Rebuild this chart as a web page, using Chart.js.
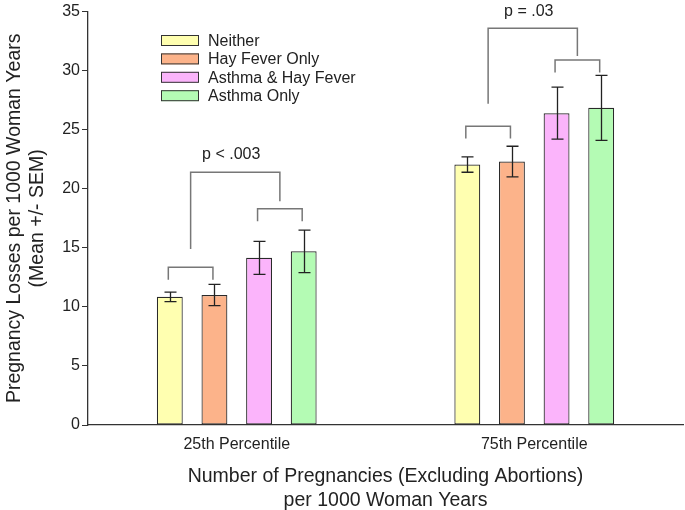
<!DOCTYPE html>
<html>
<head>
<meta charset="utf-8">
<script src="https://cdn.jsdelivr.net/npm/chart.js@4"></script>
<style>
  html, body { margin: 0; padding: 0; background: #fff; }
  #wrap { width: 685px; height: 510px; }
</style>
</head>
<body>
<div id="wrap"><canvas id="chart" width="685" height="510"></canvas></div>
<script>
// ---- data ----
const categories = ["25th Percentile", "75th Percentile"];
const seriesNames = ["Neither", "Hay Fever Only", "Asthma & Hay Fever", "Asthma Only"];
const neither = [10.85, 22.05];
const hayFever = [11.0, 22.3];
const asthmaHay = [14.15, 26.4];
const asthmaOnly = [14.7, 26.85];
const semNeither = [0.4, 0.65];
const semHayFever = [0.9, 1.3];
const semAsthmaHay = [1.4, 2.2];
const semAsthmaOnly = [1.8, 2.75];
const yTicks = [0, 5, 10, 15, 20, 25, 30, 35];

// significance brackets (y values in data units)
const pairLevelA = [13.35, 25.3];   // Neither vs Hay Fever
const pairLevelB = [18.3, 30.9];    // Asthma & HF vs Asthma only
const pairLeg = 1.05;
const bigLevel = [21.4, 33.6];
const bigLegLeft = [14.9, 27.2];
const bigLegRight = [18.95, 31.25];
const pLabels = ["p < .003", "p = .03"];
const pLabelY = [22.9, 35.0];

const COLORS = ["#ffffb0", "#fcb38a", "#fbb4fb", "#b4fbb4"];
const FONT = "'Liberation Sans', Arial, sans-serif";

const values = [neither, hayFever, asthmaHay, asthmaOnly];
const sems = [semNeither, semHayFever, semAsthmaHay, semAsthmaOnly];

// ---- error bars, brackets, legend drawn on top of bars ----
const overlay = {
    id: "overlay",
    afterDatasetsDraw(chart) {
        const c = chart.ctx;
        const ys = chart.scales.y;

        // error bars
        c.save();
        c.strokeStyle = "#222";
        c.lineWidth = 1.3;
        values.forEach((vals, di) => {
            chart.getDatasetMeta(di).data.forEach((bar, i) => {
                const x = Math.round(bar.x) + 0.5;
                const hi = ys.getPixelForValue(vals[i] + sems[di][i]);
                const lo = ys.getPixelForValue(vals[i] - sems[di][i]);
                c.beginPath();
                c.moveTo(x, hi); c.lineTo(x, lo);
                c.moveTo(x - 6, hi); c.lineTo(x + 6, hi);
                c.moveTo(x - 6, lo); c.lineTo(x + 6, lo);
                c.stroke();
            });
        });

        // brackets
        c.strokeStyle = "#777";
        c.lineWidth = 1.5;
        const cx = (di, i) => chart.getDatasetMeta(di).data[i].x - 1.5;
        categories.forEach((cat, i) => {
            const drawPair = (a, b, level) => {
                const x1 = cx(a, i), x2 = cx(b, i);
                const yTop = ys.getPixelForValue(level);
                const yBot = ys.getPixelForValue(level - pairLeg);
                c.beginPath();
                c.moveTo(x1, yBot); c.lineTo(x1, yTop);
                c.lineTo(x2, yTop); c.lineTo(x2, yBot);
                c.stroke();
                return (x1 + x2) / 2;
            };
            const mA = drawPair(0, 1, pairLevelA[i]);
            const mB = drawPair(2, 3, pairLevelB[i]);
            const top = ys.getPixelForValue(bigLevel[i]);
            c.beginPath();
            c.moveTo(mA, ys.getPixelForValue(bigLegLeft[i]));
            c.lineTo(mA, top);
            c.lineTo(mB, top);
            c.lineTo(mB, ys.getPixelForValue(bigLegRight[i]));
            c.stroke();

            c.fillStyle = "#222";
            c.font = "16px " + FONT;
            c.textAlign = "center";
            c.textBaseline = "middle";
            c.fillText(pLabels[i], (mA + mB) / 2 - 4, ys.getPixelForValue(pLabelY[i]));
        });

        // legend
        c.textAlign = "left";
        c.font = "16px " + FONT;
        chart.data.datasets.forEach((ds, di) => {
            const y = 40.5 + di * 18.4;
            c.fillStyle = ds.backgroundColor;
            c.fillRect(161, y - 5.5, 38, 11);
            c.strokeStyle = "#333";
            c.lineWidth = 1;
            c.strokeRect(161.5, y - 5, 37, 10);
            c.fillStyle = "#222";
            c.fillText(ds.label, 208, y + 1);
        });
        c.restore();
    }
};

new Chart(document.getElementById("chart"), {
    type: "bar",
    data: {
        labels: categories,
        datasets: seriesNames.map((name, i) => ({
            label: name,
            data: values[i],
            backgroundColor: COLORS[i],
            borderColor: "#2a2a2a",
            borderWidth: 1.2,
            borderSkipped: false,
            categoryPercentage: 0.6,
            barPercentage: 0.58
        }))
    },
    options: {
        responsive: false,
        animation: false,
        devicePixelRatio: 1,
        layout: { padding: { top: 8, right: 2, left: 0, bottom: 0 } },
        plugins: { legend: { display: false }, tooltip: { enabled: false } },
        scales: {
            x: {
                grid: { display: false, drawTicks: false },
                border: { display: true, color: "#333", width: 1.3 },
                ticks: { color: "#222", padding: 10, font: { family: FONT, size: 16 } },
                title: {
                    display: true,
                    text: ["Number of Pregnancies (Excluding Abortions)", "per 1000 Woman Years"],
                    color: "#222",
                    font: { family: FONT, size: 19.5 },
                    lineHeight: 1.25,
                    padding: { top: 0, bottom: -2 }
                },
                afterFit(scale) { scale.height = 85; }
            },
            y: {
                min: 0,
                max: 35,
                afterBuildTicks(scale) { scale.ticks = yTicks.map(v => ({ value: v })); },
                grid: { drawOnChartArea: false, drawTicks: true, tickLength: 6, color: "#333" },
                border: { display: true, color: "#333", width: 1.3 },
                ticks: { color: "#222", padding: 2, font: { family: FONT, size: 16 } },
                title: {
                    display: true,
                    text: ["Pregnancy Losses per 1000 Woman Years", "(Mean +/- SEM)"],
                    color: "#222",
                    font: { family: FONT, size: 19.5 },
                    lineHeight: 1.08,
                    padding: { top: 2.5, bottom: 0 }
                },
                afterFit(scale) { scale.width = 88; }
            }
        }
    },
    plugins: [overlay]
});
</script>
</body>
</html>
